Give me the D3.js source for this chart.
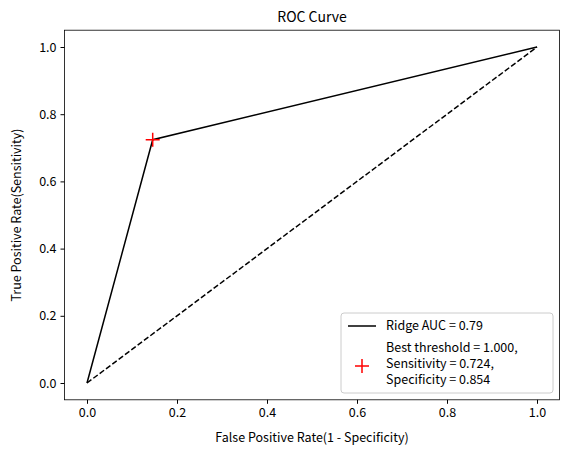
<!DOCTYPE html>
<html><head><meta charset="utf-8">
<script src="https://cdn.jsdelivr.net/npm/d3@7"></script>
<style>body{margin:0;background:#fff}text{font-family:"Noto Sans CJK KR","DejaVu Sans",sans-serif}</style>
</head><body><div id="chart"></div>
<script>
// ROC data
var fpr = [0, 0.146, 1];
var tpr = [0, 0.724, 1];
var best = [0.146, 0.724];
var ticks = [0, 0.2, 0.4, 0.6, 0.8, 1.0];

var width = 569, height = 454;
var mLeft = 64.5, mRight = 559.5, mTop = 30.2, mBottom = 399.8;

var svg = d3.select("#chart").append("svg").attr("width", width).attr("height", height);

var x = d3.scaleLinear().domain([-0.05, 1.05]).range([mLeft, mRight]);
var y = d3.scaleLinear().domain([-0.05, 1.05]).range([mBottom, mTop]);

svg.append("g").attr("transform", "translate(0," + mBottom + ")")
    .call(d3.axisBottom(x).tickValues(ticks).tickFormat(d3.format(".1f")).tickSizeOuter(0).tickSize(4).tickPadding(4));
svg.append("g").attr("transform", "translate(" + mLeft + ",0)")
    .call(d3.axisLeft(y).tickValues(ticks).tickFormat(d3.format(".1f")).tickSizeOuter(0).tickSize(4).tickPadding(4));
svg.selectAll(".tick text").attr("font-size", 12.5).attr("fill", "#000")
    .style("font-family", '"Noto Sans CJK KR","DejaVu Sans",sans-serif');
svg.selectAll(".domain").remove();
svg.append("rect").attr("x", mLeft).attr("y", mTop).attr("width", mRight - mLeft).attr("height", mBottom - mTop)
    .attr("fill", "none").attr("stroke", "#000").attr("stroke-width", 0.8);

var line = d3.line().x(function(d) { return x(d[0]); }).y(function(d) { return y(d[1]); });
svg.append("path").datum([[0, 0], [1, 1]]).attr("d", line)
    .attr("fill", "none").attr("stroke", "#000").attr("stroke-width", 1.5).attr("stroke-dasharray", "5.5,2.4");
svg.append("path").datum(fpr.map(function(v, i) { return [v, tpr[i]]; })).attr("d", line)
    .attr("fill", "none").attr("stroke", "#000").attr("stroke-width", 1.5);

function cross(g, cx, cy) {
    g.append("path").attr("d", "M" + (cx - 7) + "," + cy + "H" + (cx + 7) + "M" + cx + "," + (cy - 7) + "V" + (cy + 7))
        .attr("stroke", "red").attr("stroke-width", 1.5);
}
cross(svg, x(best[0]), y(best[1]));

svg.append("text").attr("x", (mLeft + mRight) / 2).attr("y", mTop - 8).attr("text-anchor", "middle")
    .attr("font-size", 14).text("ROC Curve");
svg.append("text").attr("x", (mLeft + mRight) / 2).attr("y", 442).attr("text-anchor", "middle")
    .attr("font-size", 12.5).text("False Positive Rate(1 - Specificity)");
svg.append("text").attr("transform", "translate(21," + (mTop + mBottom) / 2 + ")rotate(-90)")
    .attr("text-anchor", "middle").attr("font-size", 12.5).text("True Positive Rate(Sensitivity)");

// legend
var lg = svg.append("g");
lg.append("rect").attr("x", 341).attr("y", 313).attr("width", 212).attr("height", 80).attr("rx", 3)
    .attr("fill", "#fff").attr("fill-opacity", 0.8).attr("stroke", "#ccc");
lg.append("line").attr("x1", 348).attr("x2", 376).attr("y1", 326).attr("y2", 326).attr("stroke", "#000").attr("stroke-width", 1.5);
lg.append("text").attr("x", 386).attr("y", 330).attr("font-size", 12.5).text("Ridge AUC = 0.79");
cross(lg, 362, 366);
["Best threshold = 1.000,", "Sensitivity = 0.724,", "Specificity = 0.854"].forEach(function(t, i) {
    lg.append("text").attr("x", 386).attr("y", 352 + i * 16).attr("font-size", 12.5).text(t);
});
</script></body></html>
